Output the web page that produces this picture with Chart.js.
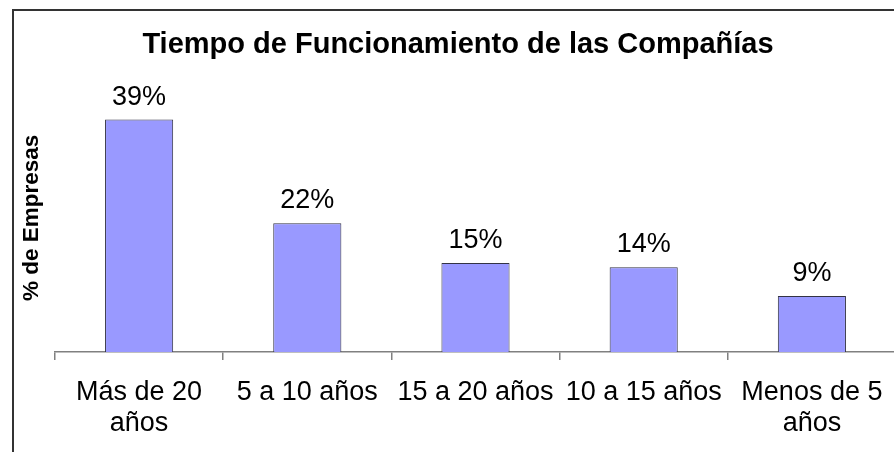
<!DOCTYPE html>
<html>
<head>
<meta charset="utf-8">
<script src="https://cdn.jsdelivr.net/npm/chart.js@4/dist/chart.umd.min.js"></script>
<style>
  html, body { margin: 0; padding: 0; overflow: hidden; background: #fff; }
  #wrap { position: relative; width: 894px; height: 452px; overflow: hidden; }
  #frame { position: absolute; left: 12px; top: 9px; width: 900px; height: 460px;
           border-left: 2px solid #333; border-top: 2px solid #333; }
  #chart { position: absolute; left: 0; top: 0; }
</style>
</head>
<body>
<div id="wrap">
  <div id="frame"></div>
  <canvas id="chart" width="896" height="452"></canvas>
</div>
<script>
// Data
const categories = [['Más de 20', 'años'], '5 a 10 años', '15 a 20 años', '10 a 15 años', ['Menos de 5', 'años']];
const percentValues = [39.0, 21.6, 14.95, 14.2, 9.4];
const valueLabels = ['39%', '22%', '15%', '14%', '9%'];

Chart.defaults.font.family = '"Liberation Sans", Arial, sans-serif';
Chart.defaults.color = '#000';

// Draws the percentage text above each bar
const barValueLabels = {
  id: 'barValueLabels',
  afterDatasetsDraw(chart) {
    const ctx = chart.ctx;
    const meta = chart.getDatasetMeta(0);
    ctx.save();
    ctx.font = '27px "Liberation Sans", Arial, sans-serif';
    ctx.fillStyle = '#000';
    ctx.textAlign = 'center';
    ctx.textBaseline = 'alphabetic';
    meta.data.forEach((bar, i) => {
      ctx.fillText(valueLabels[i], bar.x, bar.y - 15);
    });
    ctx.restore();
  }
};

const ctx = document.getElementById('chart').getContext('2d');
const chart = new Chart(ctx, {
  type: 'bar',
  data: {
    labels: categories,
    datasets: [{
      label: '% de Empresas',
      data: percentValues,
      backgroundColor: '#9999FF',
      borderColor: '#333344',
      borderWidth: 1,
      borderSkipped: 'bottom',
      barPercentage: 0.405,
      categoryPercentage: 1
    }]
  },
  options: {
    responsive: false,
    animation: false,
    layout: { padding: { left: 20, top: 10, right: 0, bottom: 0 } },
    plugins: {
      legend: { display: false },
      tooltip: { enabled: false },
      title: {
        display: true,
        text: 'Tiempo de Funcionamiento de las Compañías',
        color: '#000',
        font: { size: 29, weight: 'bold', lineHeight: 1.2 },
        padding: { top: 18, bottom: 21 }
      }
    },
    scales: {
      x: {
        grid: {
          display: true,
          drawOnChartArea: false,
          drawTicks: true,
          tickLength: 8,
          color: '#808080',
          lineWidth: 1.5,
          offset: true
        },
        border: { display: true, color: '#808080', width: 1.5 },
        ticks: {
          color: '#000',
          font: { size: 27, lineHeight: 1.15 },
          padding: 17,
          maxRotation: 0,
          minRotation: 0,
          autoSkip: false
        },
        afterFit(scale) {
          scale.height = 100;
          // keep the plot running to the right edge like the original
          scale.paddingLeft = 0;
          scale.paddingRight = 0;
        }
      },
      y: {
        min: 0,
        max: 45,
        grid: { display: false },
        border: { display: false },
        ticks: { display: false },
        title: {
          display: true,
          text: '% de Empresas',
          color: '#000',
          font: { size: 22.5, weight: 'bold', lineHeight: 1 },
          padding: { top: 0.75, bottom: 0 }
        },
        afterFit(scale) { scale.width = 35; }
      }
    }
  },
  plugins: [barValueLabels]
});
</script>
</body>
</html>
